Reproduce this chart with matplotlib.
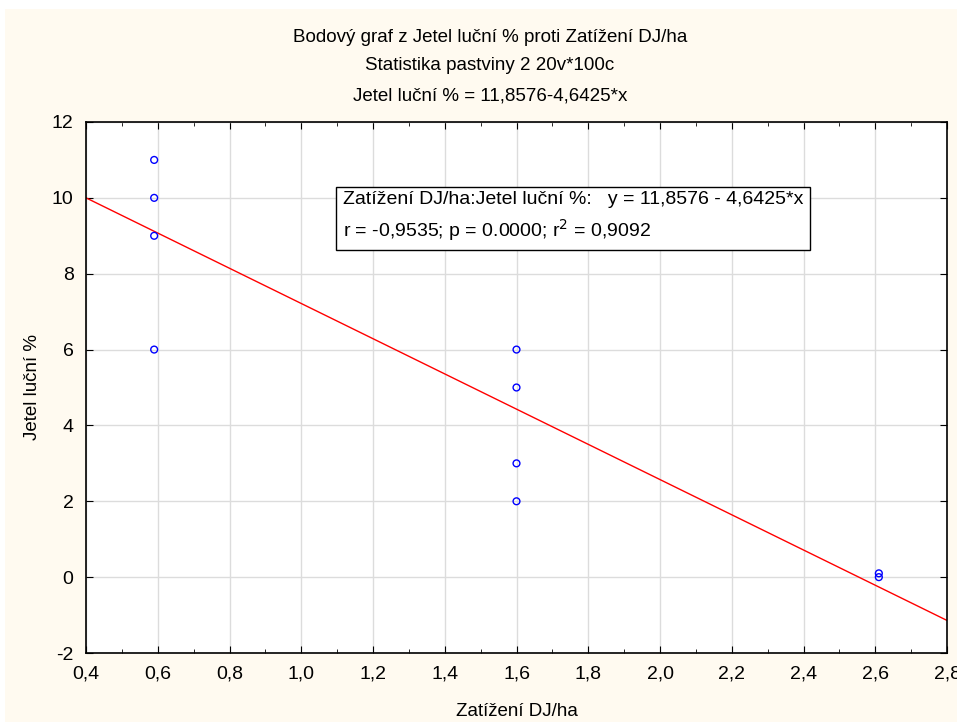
import matplotlib.pyplot as plt
from matplotlib.patches import Rectangle
import numpy as np

plt.rcParams['font.family'] = ['Liberation Sans', 'DejaVu Sans']
plt.rcParams['axes.unicode_minus'] = False

# data
zatizeni = [0.59, 0.59, 0.59, 0.59, 1.6, 1.6, 1.6, 1.6, 2.61, 2.61]
jetel = [11, 10, 9, 6, 6, 5, 3, 2, 0.1, 0]
a, b = 11.8576, -4.6425
xticks = [0.4, 0.6, 0.8, 1.0, 1.2, 1.4, 1.6, 1.8, 2.0, 2.2, 2.4, 2.6, 2.8]
yticks = [-2, 0, 2, 4, 6, 8, 10, 12]

W, H = 957, 726
fig = plt.figure(figsize=(W / 100, H / 100), dpi=100, facecolor='white')
fig.patches.append(Rectangle((5 / W, 4 / H), 1 - 5 / W, 1 - 13 / H, transform=fig.transFigure,
                             facecolor='#fffaf0', edgecolor='none', zorder=-10))
ax = fig.add_axes([86 / W, 1 - 653 / H, (947 - 86) / W, (653 - 122) / H])
ax.set_facecolor('white')

ax.set_xlim(0.4, 2.8)
ax.set_ylim(-2, 12)
ax.set_xticks(xticks)
ax.set_xticklabels([f'{t:.1f}'.replace('.', ',') for t in xticks])
ax.set_yticks(yticks)
ax.set_xticks(np.arange(0.5, 2.8, 0.2), minor=True)
ax.grid(True, color='#dcdcdc', linewidth=1)
ax.set_axisbelow(True)
ax.tick_params(which='both', direction='in', top=True, right=True, labelsize=14, colors='black')
ax.tick_params(which='major', length=5, pad=9)
ax.tick_params(which='minor', length=3)
for s in ax.spines.values():
    s.set_linewidth(1.2)

xl = np.array([0.4, 2.8])
ax.plot(xl, a + b * xl, color='red', linewidth=1)
ax.scatter(zatizeni, jetel, s=24, facecolors='none', edgecolors='blue', linewidths=1, zorder=3)

ax.set_xlabel('Zatížení DJ/ha', fontsize=13.5, labelpad=15)
ax.set_ylabel('Jetel luční %', fontsize=13.5)
ax.yaxis.set_label_coords(-0.052, 0.5)

fig.text(490 / W, 1 - 38 / H, 'Bodový graf z Jetel luční % proti Zatížení DJ/ha', ha='center', va='center', fontsize=13.5)
fig.text(490 / W, 1 - 66 / H, 'Statistika pastviny 2 20v*100c', ha='center', va='center', fontsize=13.5)
fig.text(490 / W, 1 - 96 / H, 'Jetel luční % = 11,8576-4,6425*x', ha='center', va='center', fontsize=13.5)

ax.text(0.298, 0.821, 'Zatížení DJ/ha:Jetel luční %:   y = 11,8576 - 4,6425*x\n'
        'r = -0,9535; p = 0.0000; r$^2$ = 0,9092',
        transform=ax.transAxes, fontsize=14, va='center', ha='left', linespacing=1.45,
        bbox=dict(boxstyle='square,pad=0.35', facecolor='white', edgecolor='black', linewidth=1))

fig.savefig('out.png', dpi=100, facecolor=fig.get_facecolor())
